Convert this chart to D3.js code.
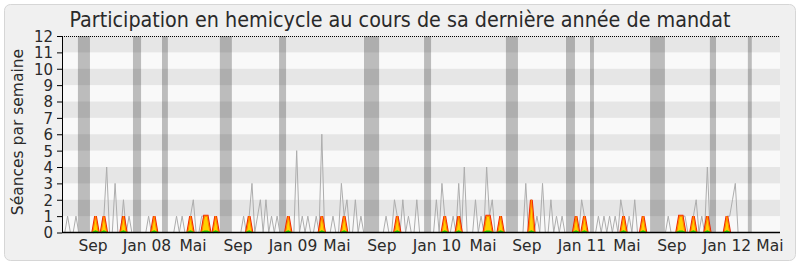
<!DOCTYPE html>
<html>
<head>
<meta charset="utf-8">
<script src="https://cdn.jsdelivr.net/npm/d3@7"></script>
<style>
  body { margin: 0; background: #fff; }
  svg text { font-family: "DejaVu Sans", sans-serif; fill: #2a2a2a; }
  svg text.cond { font-family: "DejaVu Sans Condensed", "DejaVu Sans", sans-serif; font-stretch: condensed; }
</style>
</head>
<body>
<svg id="chart" width="800" height="267"></svg>
<script>
// weekly values, one per week from late June 2007 to June 2012
var grayValues = [
  0,0,1,0,0,1,0,0,0,0,  0,0,1,0,0,1,4,0,0,3,
  0,0,2,0,1,0,0,0,0,0,  0,1,0,1,0,0,0,0,0,0,
  0,1,0,1,0,0,1,2,0,0,  1,1,1,0,0,1,0,0,0,0,
  0,0,0,0,0,1,0,1,3,0,  1,2,0,2,0,1,0,1,0,0,
  0,1,0,0,5,0,1,0,1,0,  0,1,0,6,0,0,0,1,0,0,
  3,1,2,0,0,2,0,1,0,0,  0,0,0,0,0,0,1,0,0,2,
  1,0,2,0,1,0,0,2,0,0,  0,0,0,0,2,0,3,1,0,0,
  1,0,3,0,4,0,0,0,2,0,  1,0,4,1,2,0,0,1,0,0,
  0,0,0,0,0,0,3,0,2,0,  1,0,3,0,0,2,0,1,0,1,
  0,0,0,0,1,0,2,1,0,0,  0,0,1,0,1,0,1,0,1,0,
  2,1,0,1,0,2,0,0,1,0,  0,0,0,0,0,0,0,1,0,0,
  0,1,1,1,0,0,1,2,0,1,  0,4,0,0,0,0,0,0,1,1,
  2,3,0,0,0,0,0,0,0,0,  0,0,0,0,0,0,0,0
]

// weeks where the deputy was present, and how many sessions
var presenceWeeks  = [12,15,22,33,46,51,52,55,67,81,93,101,120,137,142,152,153,157,168,184,187,201,208,221,222,226,231,238]
var presenceValues = [ 1, 1, 1, 1, 1, 1, 1, 1, 1, 1, 1,  1,  1,  1,  1,  1,  1,  1,  2,  1,  1,  1,  1,  1,  1,  1,  1,  1]
var interventionValues = [0.08,0.08,0.08,0.08,0.08,0.08,0.08,0.08,0.08,0.08,0.08,0.08,0.08,0.08,0.08,0.08,0.08,0.08,0.08,0.08,0.08,0.08,0.08,0.08,0.08,0.08,0.08,0.08]

// parliamentary holidays [first week, last week]
var holidays = [[5.7,10],[25.4,28.3],[35.8,37.9],[56.5,60.8],[77.7,80.2],[108.1,113.5],[129.6,132.1],
                [158.9,163.2],[180.4,183.6],[189,190.4],[210.5,215.8],[231.9,234.1],[245.5,246.9]]

var monthLabels = ["Sep","Jan 08","Mai","Sep","Jan 09","Mai","Sep","Jan 10","Mai","Sep","Jan 11","Mai","Sep","Jan 12","Mai"]
var monthWeeks  = [11.1,30.4,46.9,63.0,82.7,98.4,114.5,134.2,150.7,166.4,186.1,202.2,218.3,238.0,253.4]

var yTicks = d3.range(0, 13)

var svg = d3.select('#chart')

// frame
svg.append('rect')
    .attr('x', 4.5).attr('y', 4.5)
    .attr('width', 791).attr('height', 256)
    .attr('rx', 6)
    .attr('fill', '#f0f0f0')
    .attr('stroke', '#d6d6d6')

var mLeft = 62, mRight = 780, mTop = 36, mBottom = 232.5

var x = d3.scaleLinear().domain([0, grayValues.length - 1]).range([mLeft, mRight])
var y = d3.scaleLinear().domain([0, 12]).range([mBottom, mTop])

var plot = svg.append('g')

// background
plot.append('rect')
    .attr('x', mLeft).attr('y', mTop)
    .attr('width', mRight - mLeft).attr('height', mBottom - mTop)
    .attr('fill', '#f9f9f9')

// holidays
plot.selectAll('.holiday')
    .data(holidays)
    .enter()
    .append('rect')
        .attr('class', 'holiday')
        .attr('x', d => x(d[0]))
        .attr('width', d => x(d[1]) - x(d[0]))
        .attr('y', mTop)
        .attr('height', mBottom - mTop)
        .attr('fill', '#bcbcbc')

// alternate bands
plot.selectAll('.band')
    .data(yTicks.filter(d => d % 2 == 1))
    .enter()
    .append('rect')
        .attr('class', 'band')
        .attr('x', mLeft)
        .attr('width', mRight - mLeft)
        .attr('y', d => y(d + 1))
        .attr('height', d => y(d) - y(d + 1))
        .attr('fill', 'rgba(0,0,0,0.075)')

// gray line
var line = d3.line()
    .x((d, i) => x(i))
    .y(d => y(d))

plot.append('path')
    .datum(grayValues)
    .attr('d', line)
    .attr('fill', 'none')
    .attr('stroke', '#adadad')
    .attr('stroke-width', 1)

// group consecutive presence weeks into spikes
var segments = []
presenceWeeks.forEach((w, i) => {
    var last = segments[segments.length - 1]
    var pt = { w: w, v: presenceValues[i], g: interventionValues[i] }
    if (last && last[last.length - 1].w == w - 1) last.push(pt)
    else segments.push([pt])
})
segments = segments.map(s => [{ w: s[0].w - 1, v: 0, g: 0 }].concat(s, [{ w: s[s.length - 1].w + 1, v: 0, g: 0 }]))

var presLine = d3.line().x(d => x(d.w)).y(d => y(d.v))
var presArea = d3.area().x(d => x(d.w)).y0(y(0)).y1(d => y(d.v))
var greenLine = d3.line().x(d => x(d.w)).y(d => y(d.g))

var spikes = plot.selectAll('.spike')
    .data(segments)
    .enter()
    .append('g')
        .attr('class', 'spike')

spikes.append('path')
    .attr('d', presLine)
    .attr('fill', 'none')
    .attr('stroke', '#f01e00')
    .attr('stroke-width', 2.8)
spikes.append('path')
    .attr('d', presArea)
    .attr('fill', '#ffd000')
spikes.append('path')
    .attr('d', presLine)
    .attr('fill', 'none')
    .attr('stroke', '#ff8a00')
    .attr('stroke-width', 1.1)
spikes.append('path')
    .attr('d', greenLine)
    .attr('fill', 'none')
    .attr('stroke', '#22d400')
    .attr('stroke-width', 1.6)

// top dotted line
svg.append('line')
    .attr('x1', mLeft).attr('x2', mRight)
    .attr('y1', y(12) + 0.5).attr('y2', y(12) + 0.5)
    .attr('stroke', '#000')
    .attr('stroke-dasharray', '1,1')

// y axis
var yAxis = svg.append('g')
    .attr('transform', 'translate(' + mLeft + ',0)')
    .call(d3.axisLeft(y).tickValues(yTicks).tickSize(5).tickSizeOuter(0).tickFormat(d3.format('d')))
yAxis.select('.domain').attr('stroke', '#000')
yAxis.selectAll('.tick line').attr('stroke', '#000')
yAxis.selectAll('.tick text')
    .attr('x', -9)
    .attr('dy', '0.36em')
    .style('font-size', '15px')
    .style('font-family', null)

// x axis
svg.append('line')
    .attr('x1', mLeft).attr('x2', mRight)
    .attr('y1', mBottom).attr('y2', mBottom)
    .attr('stroke', '#000')
    .attr('stroke-width', 1.5)

svg.selectAll('.xlab')
    .data(monthLabels)
    .enter()
    .append('text')
        .attr('class', 'xlab')
        .attr('x', (d, i) => x(monthWeeks[i]))
        .attr('y', 251)
        .attr('text-anchor', 'middle')
        .style('font-size', '15.5px')
        .text(d => d)

// title
svg.append('text')
    .attr('class', 'cond')
    .attr('x', 400)
    .attr('y', 27)
    .attr('text-anchor', 'middle')
    .style('font-size', '21.3px')
    .text('Participation en hemicycle au cours de sa dernière année de mandat')

svg.append('text')
    .attr('transform', 'translate(23,132)rotate(-90)')
    .attr('text-anchor', 'middle')
    .style('font-size', '15.5px')
    .text('Séances par semaine')
</script>
</body>
</html>
